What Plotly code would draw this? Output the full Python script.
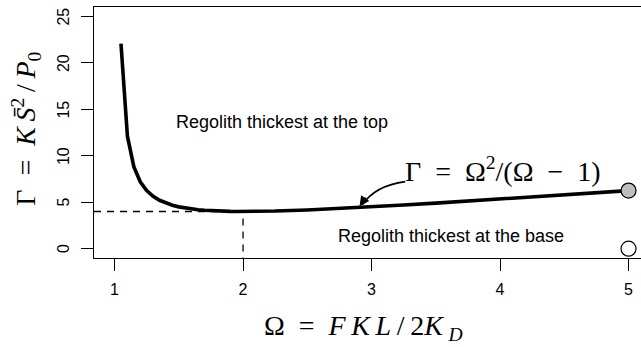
import plotly.graph_objects as go

# Curve Gamma = Omega^2/(Omega-1)
omega = [1.05, 1.10, 1.15, 1.20, 1.25, 1.30, 1.35, 1.40, 1.45, 1.50, 1.55, 1.60,
         1.65, 1.70, 1.75, 1.80, 1.85, 1.90, 1.95, 2.00, 2.25, 2.50, 2.75, 3.00,
         3.25, 3.50, 3.75, 4.00, 4.25, 4.50, 4.75, 5.00]
gamma = [22.05, 12.10, 8.817, 7.20, 6.25, 5.633, 5.207, 4.90, 4.672, 4.50, 4.368, 4.267,
         4.188, 4.129, 4.083, 4.05, 4.026, 4.011, 4.003, 4.00, 4.05, 4.167, 4.321, 4.50,
         4.694, 4.90, 5.114, 5.333, 5.558, 5.786, 6.017, 6.25]

# threshold (minimum) point
omega_min = 2.0
gamma_min = 4.0

# end points at Omega = 5
end_omega = [5.0, 5.0]
end_gamma = [6.25, 0.0]
end_fill = ["#bebebe", "white"]

x_ticks = [1, 2, 3, 4, 5]
y_ticks = [0, 5, 10, 15, 20, 25]

x_range = [0.84, 5.097]
y_range = [-1, 26]

serif = "Liberation Serif"
sans = "Liberation Sans"
EN = "\u2002"   # en space (math spacing around relations)
TH = "\u2009"   # thin space (wider math italic)

fig = go.Figure()

# dashed guide lines to the minimum
fig.add_trace(go.Scatter(
    x=[x_range[0], omega_min, omega_min], y=[gamma_min, gamma_min, y_range[0]],
    mode="lines", line=dict(color="black", width=1.3, dash="7px,6px"),
    hoverinfo="skip", showlegend=False))

# main curve
fig.add_trace(go.Scatter(
    x=omega, y=gamma, mode="lines",
    line=dict(color="black", width=3.6), showlegend=False))

# end point markers
fig.add_trace(go.Scatter(
    x=end_omega, y=end_gamma, mode="markers",
    marker=dict(size=15, color=end_fill, line=dict(color="black", width=1.2)),
    showlegend=False, cliponaxis=False))

# curved arrow body
fig.add_shape(type="path",
              path="M 3.262,7.21 Q 3.03,6.78 2.93,4.75",
              line=dict(color="black", width=1.8), xref="x", yref="y")
# arrow head
fig.add_annotation(x=2.9066, y=4.57, ax=9, ay=-13, xref="x", yref="y",
                   axref="pixel", ayref="pixel", text=" ", showarrow=True,
                   arrowhead=2, arrowsize=1.1, arrowwidth=1.8, arrowcolor="black",
                   standoff=0)

# formula label
fig.add_annotation(x=4.02, y=8.5, xref="x", yref="y", showarrow=False,
                   text=f"Γ{EN}={EN}Ω<sup>2</sup>/(Ω{EN}−{EN}1)",
                   font=dict(family=serif, size=28, color="black"),
                   xanchor="center", yanchor="middle")

# region labels
fig.add_annotation(x=2.305, y=13.6, xref="x", yref="y", showarrow=False,
                   text="Regolith thickest at the top",
                   font=dict(family=sans, size=18, color="black"))
fig.add_annotation(x=3.62, y=1.4, xref="x", yref="y", showarrow=False,
                   text="Regolith thickest at the base",
                   font=dict(family=sans, size=18, color="black"))

# y tick labels, rotated like R's default
for v in y_ticks:
    fig.add_annotation(x=-0.0561, y=v, xref="paper", yref="y", showarrow=False,
                       text=str(v), textangle=-90,
                       font=dict(family=sans, size=16, color="black"),
                       xanchor="center", yanchor="middle")

# axis titles
fig.add_annotation(x=0.4918, y=-0.275, xref="paper", yref="paper", showarrow=False,
                   text=f"Ω{EN}={EN}<i>F{TH}K{TH}L</i>{TH}/{TH}2<i>K</i>{TH}<sub><i>D</i></sub>",
                   font=dict(family=serif, size=28, color="black"),
                   xanchor="center", yanchor="middle")
fig.add_annotation(x=-0.124, y=0.516, xref="paper", yref="paper", showarrow=False,
                   text=f"Γ{EN}={EN}<i>K{TH}S̄</i><sup>2</sup>{TH}/{TH}<i>P</i><sub>0</sub>",
                   textangle=-90,
                   font=dict(family=serif, size=28, color="black"),
                   xanchor="center", yanchor="middle")

fig.update_layout(
    width=641, height=347,
    margin=dict(l=94, r=0, t=7, b=89, autoexpand=False),
    paper_bgcolor="white", plot_bgcolor="white",
    xaxis=dict(range=x_range, tickvals=x_ticks, ticktext=[str(v) for v in x_ticks],
               automargin=False,
               showgrid=False, zeroline=False, showline=True, mirror=True,
               linecolor="black", linewidth=1, ticks="outside", ticklen=12,
               tickcolor="black", tickwidth=1, ticklabelstandoff=5,
               tickfont=dict(family=sans, size=16, color="black")),
    yaxis=dict(range=y_range, tickvals=y_ticks, showticklabels=False,
               automargin=False,
               showgrid=False, zeroline=False, showline=True, mirror=False,
               linecolor="black", linewidth=1, ticks="outside", ticklen=12,
               tickcolor="black", tickwidth=1),
)

fig.write_html("out.html",
               config={"displayModeBar": False},
               post_script="document.body.style.margin='0';"
                           "document.body.style.padding='0';"
                           "document.body.style.overflow='hidden';")
